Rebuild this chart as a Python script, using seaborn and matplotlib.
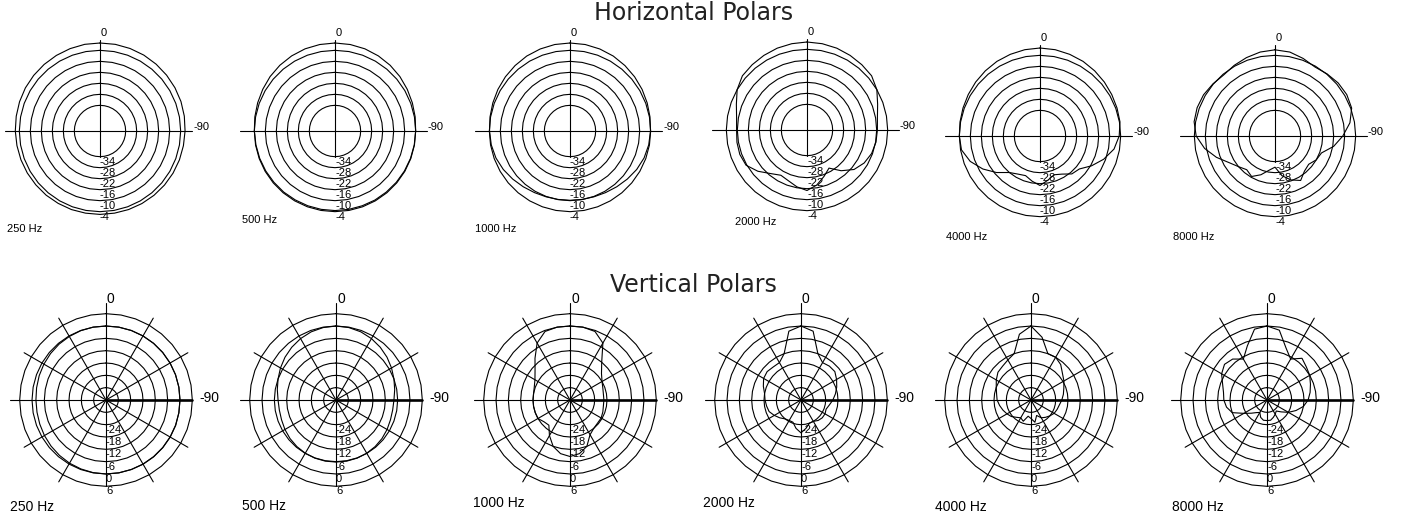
import numpy as np
import pandas as pd
import matplotlib
matplotlib.use('Agg')
import matplotlib.pyplot as plt
import seaborn as sns

sns.set_style('white')
plt.rcParams['font.family'] = ['Liberation Sans', 'DejaVu Sans']
plt.rcParams['text.color'] = 'black'

FREQS = ['250 Hz', '500 Hz', '1000 Hz', '2000 Hz', '4000 Hz', '8000 Hz']
# angles in degrees, counter-clockwise from the top ("0"); 90 = left, 270 = right ("-90")
ANGLES = list(range(0, 360, 10))

H_RINGS = [-34, -28, -22, -16, -10, -4]
V_RINGS = [-30, -24, -18, -12, -6, 0, 6]
V_RING_LABELS = [-24, -18, -12, -6, 0, 6]
V_SPOKES = [30, 60, 120, 150, 210, 240, 300, 330]

# horizontal polars, level in dB
H250 = [0, 0, -0.2, -0.4, -0.6, -0.8, -1.0, -1.3, -1.6, -1.8,
        -2.0, -2.1, -2.2, -2.3, -2.3, -2.4, -2.4, -2.5, -2.5,
        -2.5, -2.4, -2.3, -2.2, -2.1, -2.0, -1.9, -1.8, -1.6,
        -1.3, -1.0, -0.8, -0.6, -0.4, -0.2, -0.1, 0]
H500 = [0, -0.1, -0.3, -0.7, -1.2, -1.8, -2.5, -3.1, -3.6, -4.0,
        -4.2, -4.3, -4.4, -4.5, -4.5, -4.6, -4.6, -4.6, -4.6,
        -4.6, -4.6, -4.5, -4.5, -4.4, -4.3, -4.2, -4.1, -4.0,
        -3.6, -3.1, -2.5, -1.8, -1.2, -0.7, -0.3, -0.1]
H1000 = [0, -0.1, -0.4, -0.8, -1.4, -2.0, -2.6, -3.2, -3.7, -4.1,
         -4.4, -5.0, -6.0, -7.2, -8.3, -9.2, -9.8, -10.1, -10.2,
         -10.1, -9.8, -9.2, -8.3, -7.2, -6.0, -5.0, -4.4, -4.1,
         -3.7, -3.2, -2.6, -2.0, -1.4, -0.8, -0.4, -0.1]
H2000 = [0, -0.2, -0.5, -1.0, -1.5, -2.0, -4.0, -7.0, -9.0, -9.6,
         -9.2, -9.0, -9.6, -13.0, -17.0, -19.5, -18.5, -16.5, -15.0,
         -17.5, -21.0, -24.0, -19.0, -14.5, -12.0, -10.5, -9.8, -9.6,
         -9.0, -7.0, -4.0, -2.0, -1.5, -1.0, -0.5, -0.2]
H4000 = [0, -0.2, -0.6, -1.0, -1.6, -2.2, -2.8, -3.3, -3.7, -4.0,
         -4.5, -7.5, -12.0, -17.0, -22.0, -24.0, -25.0, -23.0, -21.0,
         -23.5, -25.5, -24.0, -21.0, -20.0, -15.5, -11.0, -7.0, -4.8,
         -3.7, -3.3, -2.8, -2.2, -1.6, -1.0, -0.6, -0.2]
H8000 = [-1.0, -1.5, -2.5, -3.5, -4.5, -3.8, -3.0, -2.8, -3.2, -5.0,
         -9.0, -14.0, -19.0, -22.0, -24.0, -22.5, -25.5, -29.0, -31.0,
         -26.0, -22.5, -20.0, -23.0, -24.0, -22.0, -21.0, -15.5, -11.0,
         -6.5, -3.5, -2.8, -3.0, -3.8, -4.5, -3.0, -1.5]

# vertical polars, level in dB
V250 = [0, 0, -0.1, -0.3, -0.5, -0.8, -1.1, -1.4, -1.7, -1.9,
        -1.9, -1.7, -1.4, -1.1, -0.8, -0.5, -0.3, -0.1, 0,
        0, 0, 0.1, 0.1, 0.1, 0.1, 0.1, 0, 0,
        0, 0, 0, 0, 0, 0, 0, 0]
V500 = [0, -0.2, -0.7, -1.5, -2.5, -3.6, -4.8, -6.0, -7.0, -7.8,
        -8.0, -7.8, -7.3, -6.8, -6.4, -6.1, -5.9, -5.8, -5.8,
        -5.8, -5.9, -6.1, -6.4, -6.8, -7.3, -7.8, -8.0, -7.8,
        -7.0, -6.0, -4.8, -3.6, -2.5, -1.5, -0.7, -0.2]
V1000 = [0, 0, -0.5, -4.0, -9.5, -13.8, -16.3, -17.5, -18.0, -18.0,
         -18.0, -18.0, -18.0, -19.5, -20.0, -16.0, -12.0, -9.5, -8.5,
         -9.5, -12.0, -16.5, -18.0, -18.5, -18.5, -19.0, -19.5, -19.5,
         -19.5, -19.0, -18.0, -16.0, -12.0, -4.0, -0.5, 0]
V2000 = [0, -2.0, -12.0, -15.0, -15.0, -14.5, -15.0, -16.5, -18.0, -18.5,
         -19.0, -19.5, -21.0, -22.5, -24.0, -24.5, -24.5, -22.0, -20.0,
         -22.0, -24.0, -24.0, -23.0, -22.5, -22.5, -23.0, -22.0, -20.5,
         -19.0, -17.5, -16.0, -14.5, -14.5, -15.0, -12.0, -2.0]
V4000 = [0, -3.5, -12.0, -13.5, -14.5, -15.0, -16.5, -18.0, -19.0, -19.5,
         -20.5, -21.5, -22.5, -23.5, -25.0, -26.0, -25.0, -28.0, -27.0,
         -25.0, -28.0, -26.0, -25.0, -24.0, -23.0, -22.5, -22.0, -21.0,
         -20.0, -19.0, -17.5, -16.0, -13.5, -12.0, -12.0, -5.0]
V8000 = [0, -1.0, -8.0, -13.0, -10.0, -9.0, -10.5, -13.0, -14.5, -15.0,
         -16.0, -18.0, -23.0, -26.0, -28.0, -29.0, -27.0, -26.0, -26.0,
         -26.0, -27.0, -28.0, -29.0, -27.0, -24.0, -21.0, -18.0, -16.0,
         -14.7, -13.5, -12.0, -11.0, -9.5, -13.0, -9.0, -1.5]

H_DATA = [H250, H500, H1000, H2000, H4000, H8000]
V_DATA = [V250, V500, V1000, V2000, V4000, V8000]

W, H = 1402, 516
fig = plt.figure(figsize=(W / 100, H / 100), dpi=100)

# layout (pixels): polar centres and frequency label spots
H_CENTERS = [(100, 131), (335, 131), (570, 131), (807, 130), (1040, 136), (1275, 136)]
H_FLABEL = [(7, 229), (242, 220), (475, 229), (735, 222), (946, 237), (1173, 237)]
V_CENTERS = [(106, 400), (336, 400), (570, 400), (801, 400), (1031, 400), (1267, 400)]
V_FLABEL = [(10, 507), (242, 506), (473, 503), (703, 503), (935, 507), (1172, 507)]

H_PX_PER_DB = 11 / 6
V_PX_PER_DB = 12.33 / 6
H_LIM = (-48, 3)
V_LIM = (-36, 11)
LW = 0.8


def fig_text(x, y, s, **kw):
    fig.text(x / W, 1 - y / H, s, **kw)


def polar_at(cx, cy, lim, px_per_db):
    R = (lim[1] - lim[0]) * px_per_db
    ax = fig.add_axes([(cx - R) / W, 1 - (cy + R) / H, 2 * R / W, 2 * R / H],
                      projection='polar')
    ax.set_theta_zero_location('N')
    ax.set_theta_direction(1)
    return ax


def ring(ax, level):
    th = np.radians(np.arange(0, 361, 10))
    ax.plot(th, np.full(th.shape, level), color='black', linewidth=LW, clip_on=False)


def spoke(ax, deg, r0, r1, lw=LW):
    ax.plot([np.radians(deg)] * 2, [r0, r1], color='black', linewidth=lw, clip_on=False)


def curve(ax, vals):
    df = pd.DataFrame({'theta': np.radians(ANGLES + [360]), 'level': vals + vals[:1]})
    sns.lineplot(data=df, x='theta', y='level', ax=ax, sort=False, estimator=None,
                 color='black', linewidth=LW)


# horizontal polars
for (cx, cy), (lx, ly), vals, name in zip(H_CENTERS, H_FLABEL, H_DATA, FREQS):
    ax = polar_at(cx, cy, H_LIM, H_PX_PER_DB)
    for lv in H_RINGS:
        ring(ax, lv)
        ax.text(np.pi, lv, str(lv), ha='left', va='top', fontsize=8)
    spoke(ax, 90, H_LIM[0], 3.8)
    spoke(ax, 270, H_LIM[0], 2.0)
    spoke(ax, 0, H_LIM[0], 1.6)
    spoke(ax, 180, H_LIM[0], H_RINGS[0])
    curve(ax, vals)
    ax.set_ylim(*H_LIM)
    ax.axis('off')
    fig_text(cx + 1, cy - 95, '0', ha='left', va='baseline', fontsize=8)
    fig_text(cx + 93, cy - 1, '-90', ha='left', va='baseline', fontsize=8)
    fig_text(lx, ly, name, ha='left', va='center', fontsize=8)

# vertical polars
for (cx, cy), (lx, ly), vals, name in zip(V_CENTERS, V_FLABEL, V_DATA, FREQS):
    ax = polar_at(cx, cy, V_LIM, V_PX_PER_DB)
    for lv in V_RINGS:
        ring(ax, lv)
    for lv in V_RING_LABELS:
        ax.text(np.pi, lv, str(lv), ha='left', va='top', fontsize=8)
    for d in V_SPOKES:
        spoke(ax, d, V_LIM[0], 10)
    spoke(ax, 90, V_LIM[0], 10.7)
    spoke(ax, 270, V_LIM[0], 6, lw=1.9)
    spoke(ax, 0, V_LIM[0], 11)
    spoke(ax, 180, V_LIM[0], 6)
    curve(ax, vals)
    ax.set_ylim(*V_LIM)
    ax.axis('off')
    fig_text(cx + 1, cy - 97, '0', ha='left', va='baseline', fontsize=10)
    fig_text(cx + 93, cy - 2.5, '-90', ha='left', va='center', fontsize=10)
    fig_text(lx, ly, name, ha='left', va='center', fontsize=10)

fig_text(694, 20.5, 'Horizontal Polars', ha='center', va='baseline', fontsize=17,
         family='DejaVu Sans', color='#222222')
fig_text(693, 292, 'Vertical Polars', ha='center', va='baseline', fontsize=17,
         family='DejaVu Sans', color='#222222')

fig.savefig('out.png', dpi=100, facecolor='white')
